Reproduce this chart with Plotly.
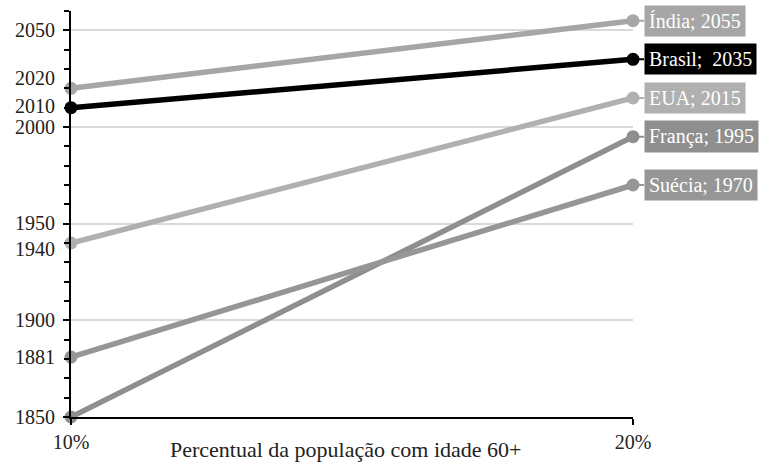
import plotly.graph_objects as go

x_labels = [10, 20]
x_ticktext = ["10%", "20%"]
countries = ["Índia", "Brasil", "EUA", "França", "Suécia"]
year_10 = [2020, 2010, 1940, 1850, 1881]
year_20 = [2055, 2035, 2015, 1995, 1970]
label_text = ["Índia; 2055", "Brasil;  2035", "EUA; 2015", "França; 1995", "Suécia; 1970"]
line_colors = ["#A6A6A6", "#000000", "#B0B0B0", "#8F8F8F", "#969696"]
y_label_vals = [1850, 1881, 1900, 1940, 1950, 2000, 2010, 2020, 2050]
y_label_shift = [0, 0, 0, -6, 1, 0, 2, 10, 0]
grid_vals = [1850, 1900, 1950, 2000, 2050]
x_title = "Percentual da população com idade 60+"

FONT = "Liberation Serif"
TXT = "#222222"
fig = go.Figure()
for c, a, b, col in zip(countries, year_10, year_20, line_colors):
    fig.add_trace(go.Scatter(
        x=x_labels, y=[a, b], mode="lines+markers", name=c,
        line=dict(color=col, width=5.5),
        marker=dict(color=col, size=13),
        cliponaxis=False, showlegend=False, hoverinfo="skip"))

for txt, b, col in zip(label_text, year_20, line_colors):
    fig.add_annotation(
        x=20, y=b, xref="x", yref="y", text=txt,
        showarrow=True, arrowhead=0, arrowwidth=2, arrowcolor=col,
        ax=11, ay=0, xanchor="left", yanchor="middle",
        bgcolor=col, borderpad=4,
        font=dict(family=FONT, size=20, color="white"))

for v, s in zip(y_label_vals, y_label_shift):
    fig.add_annotation(
        x=0, xref="paper", y=v, yref="y", text=str(v), showarrow=False,
        xanchor="right", yanchor="middle", xshift=-14, yshift=s,
        font=dict(family=FONT, size=20, color=TXT))

fig.add_annotation(
    x=0.488, xref="paper", y=0, yref="paper", text=x_title, showarrow=False,
    xanchor="center", yanchor="middle", yshift=-32,
    font=dict(family=FONT, size=22, color=TXT))

fig.update_layout(
    width=762, height=463,
    margin=dict(l=71, r=129, t=11, b=46),
    plot_bgcolor="white", paper_bgcolor="white",
    font=dict(family=FONT, size=20, color=TXT),
    xaxis=dict(range=[10, 20], tickvals=x_labels, ticktext=x_ticktext,
               automargin=False,
               showgrid=True, gridcolor="#D9D9D9", gridwidth=1.5,
               showline=True, linecolor="black", linewidth=2,
               ticks="outside", ticklen=6, tickcolor="black", tickwidth=2,
               zeroline=False,
               tickfont=dict(family=FONT, size=20, color=TXT)),
    yaxis=dict(range=[1850, 2060], tickvals=grid_vals, showticklabels=False,
               automargin=False,
               showgrid=True, gridcolor="#D9D9D9", gridwidth=1.5,
               showline=True, linecolor="black", linewidth=2,
               ticks="outside", ticklen=6, tickcolor="black", tickwidth=2,
               zeroline=False,
               minor=dict(tick0=1850, dtick=10, ticks="outside", ticklen=5,
                          tickcolor="black", tickwidth=2, showgrid=False)),
)
fig.write_html("out.html")
